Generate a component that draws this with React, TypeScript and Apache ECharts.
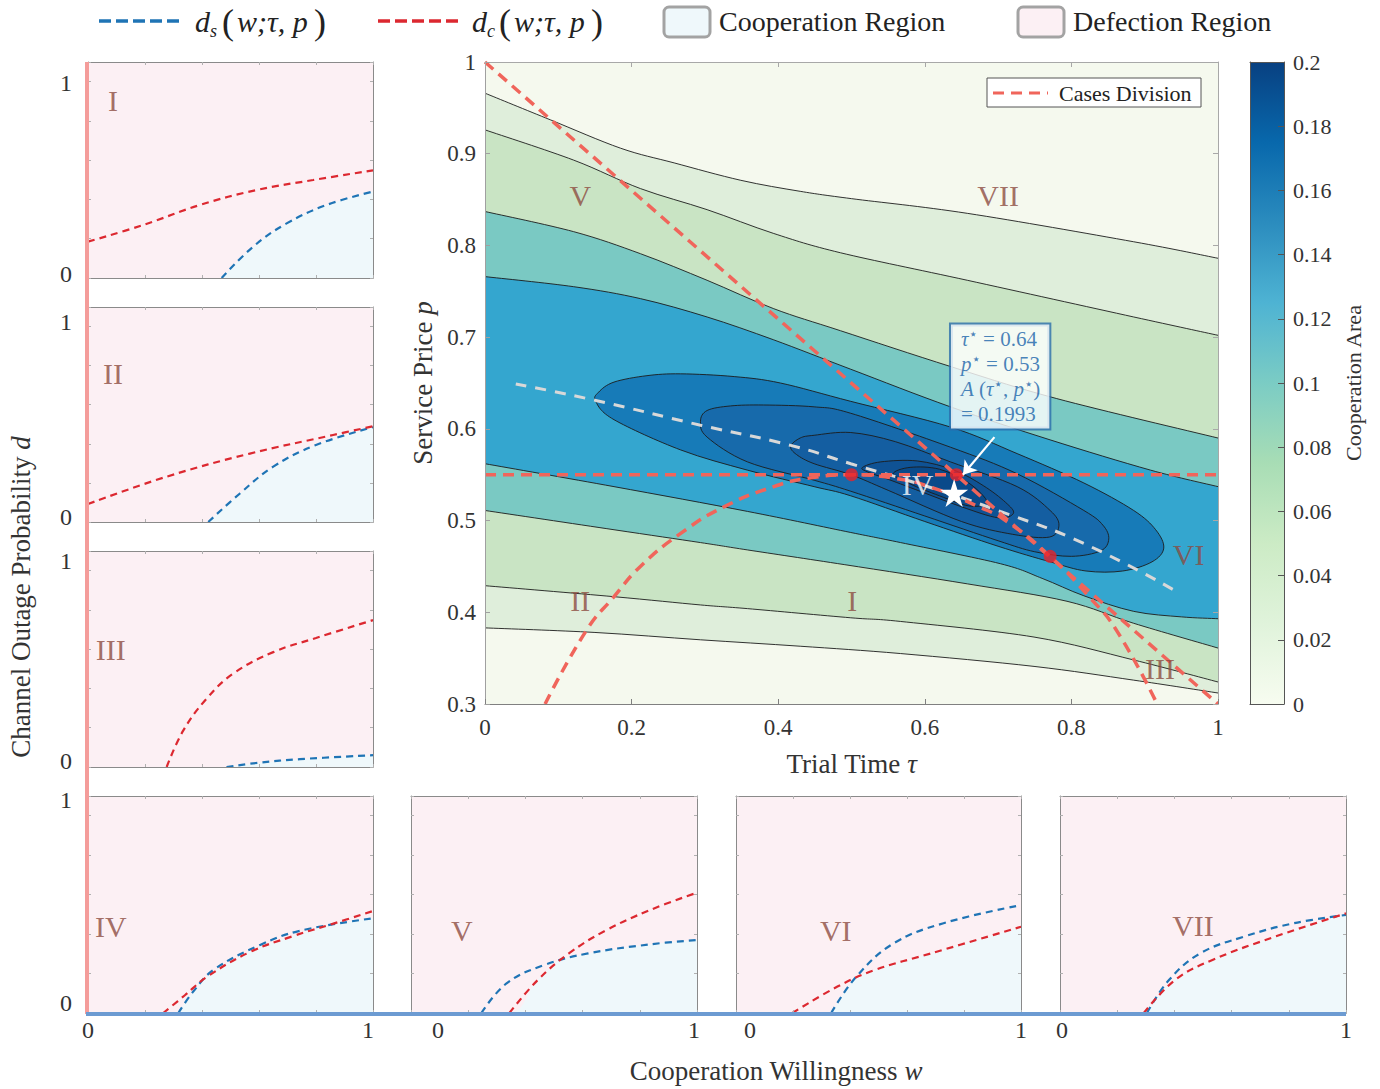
import React, { useEffect, useRef } from 'react';
import * as echarts from 'echarts';

const FONT = 'Liberation Serif';
const TXT = '#333333';
const BROWN = '#8c4b40';
const COOP = '#eff8fb';
const DEFECT = '#fcf0f4';
const BLUE = '#1f74b5';
const RED = '#dc2830';
const DIV_RED = '#f0655b';

// ---------------- main plot: contour lines of A(τ, p) ----------------
const contourL1Upper = [[0, 0.966], [0.089, 0.937], [0.185, 0.906], [0.258, 0.89], [0.349, 0.871], [0.43, 0.859], [0.5, 0.851], [0.658, 0.835], [0.885, 0.804], [1, 0.786]];
const contourL1Lower = [[0, 0.383], [0.15, 0.378], [0.294, 0.37], [0.43, 0.363], [0.567, 0.355], [0.749, 0.341], [0.885, 0.326], [1, 0.312]];
const contourL2Upper = [[0, 0.926], [0.121, 0.893], [0.212, 0.862], [0.303, 0.839], [0.394, 0.813], [0.485, 0.792], [0.658, 0.762], [0.885, 0.722], [1, 0.702]];
const contourL2Lower = [[0, 0.429], [0.176, 0.417], [0.294, 0.408], [0.358, 0.404], [0.499, 0.394], [0.567, 0.39], [0.749, 0.373], [0.885, 0.348], [1, 0.324]];
const contourL3Upper = [[0, 0.837], [0.121, 0.815], [0.212, 0.791], [0.303, 0.762], [0.394, 0.731], [0.485, 0.707], [0.635, 0.668], [0.78, 0.633], [1, 0.59]];
const contourL3Lower = [[0, 0.511], [0.176, 0.49], [0.294, 0.476], [0.358, 0.468], [0.49, 0.452], [0.658, 0.431], [0.794, 0.412], [0.885, 0.388], [1, 0.361]];
const contourL4Upper = [[0, 0.766], [0.121, 0.755], [0.212, 0.742], [0.303, 0.722], [0.394, 0.697], [0.499, 0.665], [0.635, 0.624], [0.771, 0.588], [0.908, 0.555], [1, 0.537]];
const contourL4Lower = [[0, 0.562], [0.176, 0.537], [0.358, 0.51], [0.499, 0.487], [0.567, 0.476], [0.703, 0.453], [0.76, 0.437], [0.817, 0.418], [0.885, 0.401], [0.95, 0.395], [1, 0.393]];
const contourL5 = [[0.151, 0.63], [0.155, 0.64], [0.176, 0.651], [0.221, 0.658], [0.267, 0.66], [0.34, 0.657], [0.403, 0.65], [0.499, 0.63], [0.635, 0.602], [0.726, 0.573], [0.817, 0.541], [0.885, 0.511], [0.915, 0.49], [0.926, 0.47], [0.91, 0.455], [0.87, 0.445], [0.82, 0.445], [0.771, 0.455], [0.7, 0.472], [0.6, 0.499], [0.499, 0.527], [0.449, 0.537], [0.358, 0.555], [0.267, 0.577], [0.176, 0.61]];
const contourL6 = [[0.294, 0.608], [0.303, 0.62], [0.335, 0.625], [0.38, 0.626], [0.449, 0.624], [0.499, 0.617], [0.635, 0.58], [0.726, 0.551], [0.817, 0.511], [0.843, 0.495], [0.851, 0.48], [0.84, 0.467], [0.8, 0.461], [0.75, 0.466], [0.7, 0.478], [0.6, 0.505], [0.499, 0.532], [0.449, 0.544], [0.358, 0.564], [0.303, 0.591]];
const contourL7 = [[0.417, 0.581], [0.43, 0.59], [0.449, 0.593], [0.499, 0.596], [0.56, 0.586], [0.635, 0.564], [0.726, 0.537], [0.771, 0.511], [0.783, 0.495], [0.77, 0.482], [0.72, 0.485], [0.65, 0.499], [0.55, 0.533], [0.499, 0.55], [0.449, 0.562], [0.425, 0.572]];
const contourL8 = [[0.515, 0.558], [0.54, 0.564], [0.59, 0.565], [0.64, 0.555], [0.68, 0.538], [0.71, 0.52], [0.721, 0.508], [0.7, 0.503], [0.65, 0.515], [0.6, 0.53], [0.55, 0.545], [0.522, 0.553]];
const contourL9 = [[0.557, 0.551], [0.58, 0.558], [0.62, 0.556], [0.66, 0.541], [0.685, 0.52], [0.66, 0.516], [0.62, 0.527], [0.58, 0.54]];
const bandColors = ['#f5f9ee', '#dfeedb', '#c9e4c4', '#7ac9c3', '#34a6cf', '#177bb8', '#176aab', '#145ea1', '#0f5294', '#0a4a8a'];

// case division lines, ridge, optimum
const divisionHorizontal = [[0, 0.55], [1, 0.55]];
const divisionLine = [[0, 1], [0.471, 0.67], [1, 0.3]];
const divisionCurve = [[0.082, 0.3], [0.139, 0.381], [0.176, 0.417], [0.212, 0.45], [0.267, 0.486], [0.326, 0.515], [0.394, 0.537], [0.44, 0.546], [0.5, 0.55], [0.56, 0.546], [0.606, 0.537], [0.674, 0.515], [0.712, 0.499], [0.771, 0.461], [0.824, 0.417], [0.861, 0.381], [0.917, 0.3]];
const ridgeLine = [[0.042, 0.649], [0.151, 0.631], [0.294, 0.604], [0.417, 0.582], [0.499, 0.562], [0.6, 0.538], [0.703, 0.51], [0.817, 0.475], [0.947, 0.421]];
const caseDots = [[0.5, 0.55], [0.643, 0.55], [0.771, 0.461]];
const optimum = [0.64, 0.53];
const optimumArrow = [[0.695, 0.591], [0.652, 0.55]];
const annotationAnchor = [0.6364, 0.7132];
const mainRegionLabels: [string, number, number][] = [['V', 0.13, 0.854], ['VII', 0.7, 0.854], ['IV', 0.59, 0.539], ['VI', 0.96, 0.463], ['II', 0.13, 0.413], ['I', 0.501, 0.413], ['III', 0.921, 0.339]];
const colorbarStops = ['#f7fcf0', '#e0f3db', '#ccebc5', '#a8ddb5', '#7bccc4', '#4eb3d3', '#2b8cbe', '#0868ac', '#084081'];

// ---------------- small panels: d_s (blue) and d_c (red) vs w ----------------
const panelNames = ['I', 'II', 'III', 'IV', 'V', 'VI', 'VII'];
const dsI = [[0.469, 0], [0.58, 0.16], [0.697, 0.278], [0.837, 0.372], [1, 0.44]];
const dcI = [[0, 0.185], [0.194, 0.27], [0.393, 0.372], [0.592, 0.448], [0.79, 0.499], [1, 0.548]];
const dsII = [[0.422, 0], [0.533, 0.146], [0.65, 0.283], [0.8, 0.394], [1, 0.485]];
const dcII = [[0, 0.092], [0.276, 0.232], [0.568, 0.35], [0.86, 0.445], [1, 0.49]];
const dsIII = [[0.486, 0], [0.6, 0.022], [0.744, 0.04], [1, 0.06]];
const dcIII = [[0.276, 0], [0.334, 0.185], [0.416, 0.348], [0.51, 0.476], [0.65, 0.585], [0.8, 0.657], [1, 0.748]];
const dsIV = [[0.317, 0], [0.37, 0.11], [0.44, 0.218], [0.604, 0.345], [0.744, 0.417], [1, 0.48]];
const dcIV = [[0.264, 0], [0.34, 0.09], [0.416, 0.182], [0.568, 0.309], [0.72, 0.39], [0.861, 0.453], [1, 0.517]];
const dsV = [[0.246, 0], [0.334, 0.15], [0.465, 0.243], [0.619, 0.302], [0.836, 0.348], [1, 0.37]];
const dcV = [[0.344, 0], [0.443, 0.167], [0.552, 0.302], [0.683, 0.42], [0.836, 0.522], [1, 0.61]];
const dsVI = [[0.334, 0], [0.422, 0.184], [0.553, 0.353], [0.728, 0.455], [1, 0.547]];
const dcVI = [[0.198, 0], [0.356, 0.134], [0.487, 0.218], [0.684, 0.302], [1, 0.437]];
const dsVII = [[0.304, 0], [0.381, 0.167], [0.49, 0.302], [0.643, 0.387], [0.818, 0.455], [1, 0.497]];
const dcVII = [[0.293, 0], [0.402, 0.167], [0.533, 0.269], [0.752, 0.387], [1, 0.505]];
const panelDs = [dsI, dsII, dsIII, dsIV, dsV, dsVI, dsVII];
const panelDc = [dcI, dcII, dcIII, dcIV, dcV, dcVI, dcVII];
const panelLabelPos = [[0.088, 0.906], [0.088, 0.76], [0.08, 0.6], [0.08, 0.436], [0.178, 0.416], [0.35, 0.416], [0.465, 0.446]];
const panelYTicks: [string, number, number][] = [['1', 66, 83], ['0', 66, 274], ['1', 66, 322], ['0', 66, 517], ['1', 66, 561], ['0', 66, 761], ['1', 66, 800], ['0', 66, 1003]];
const panelXTicks: [string, number][] = [['0', 88], ['1', 368], ['0', 438], ['1', 694], ['0', 750], ['1', 1021], ['0', 1062], ['1', 1346]];

// layout (pixels)
const panelBoxes = [[88, 62, 285, 216], [88, 307, 285, 215], [88, 551, 285, 216], [88, 796, 285, 217], [411, 796, 286, 217], [736, 796, 285, 217], [1060, 796, 286, 217]];

function splinePath(pts: number[][], closed: boolean, move: boolean): string {
  const n = pts.length;
  const f = (v: number) => v.toFixed(2);
  let d = move ? `M${f(pts[0][0])},${f(pts[0][1])}` : '';
  const segs = closed ? n : n - 1;
  for (let i = 0; i < segs; i++) {
    const p0 = closed ? pts[(i - 1 + n) % n] : pts[Math.max(i - 1, 0)];
    const p1 = pts[i % n];
    const p2 = pts[(i + 1) % n];
    const p3 = closed ? pts[(i + 2) % n] : pts[Math.min(i + 2, n - 1)];
    const c1x = p1[0] + (p2[0] - p0[0]) / 6, c1y = p1[1] + (p2[1] - p0[1]) / 6;
    const c2x = p2[0] - (p3[0] - p1[0]) / 6, c2y = p2[1] - (p3[1] - p1[1]) / 6;
    d += ` C${f(c1x)},${f(c1y)} ${f(c2x)},${f(c2y)} ${f(p2[0])},${f(p2[1])}`;
  }
  if (closed) d += ' Z';
  return d;
}

function buildOption() {
  const grids: any[] = [];
  const xAxes: any[] = [];
  const yAxes: any[] = [];
  const series: any[] = [];
  const graphics: any[] = [];

  const frameLine = (c: string) => ({ show: true, onZero: false, lineStyle: { color: c, width: 1 } });
  const tick = (c: string, len: number) => ({ show: true, inside: true, length: len, lineStyle: { color: c } });
  const richName = (size: number) => ({
    rich: {
      n: { fontFamily: FONT, fontSize: size, color: TXT },
      i: { fontFamily: FONT, fontSize: size, color: TXT, fontStyle: 'italic' },
    },
  });

  // ---------- main grid (0) ----------
  grids.push({ left: 485, top: 62, width: 733, height: 642, show: true, backgroundColor: bandColors[0], borderWidth: 0, containLabel: false, outerBoundsMode: 'none' });
  xAxes.push({
    gridIndex: 0, type: 'value', min: 0, max: 1, interval: 0.2, position: 'bottom', z: 10,
    axisLine: frameLine('#808080'), axisTick: tick('#808080', 5),
    axisLabel: { fontFamily: FONT, fontSize: 23, color: TXT, margin: 12, showMinLabel: true, showMaxLabel: true },
    splitLine: { show: false },
    name: '{n|Trial Time }{i|τ}', nameLocation: 'middle', nameGap: 46, nameTextStyle: richName(27),
  });
  xAxes.push({ gridIndex: 0, type: 'value', min: 0, max: 1, interval: 0.2, position: 'top', z: 10, axisLine: frameLine('#a8a8a8'), axisTick: tick('#a8a8a8', 5), axisLabel: { show: false }, splitLine: { show: false } });
  yAxes.push({
    gridIndex: 0, type: 'value', min: 0.3, max: 1, interval: 0.1, position: 'left', z: 10,
    axisLine: frameLine('#a0a0a0'), axisTick: tick('#a0a0a0', 5),
    axisLabel: { fontFamily: FONT, fontSize: 23, color: TXT, margin: 9, showMinLabel: true, showMaxLabel: true },
    splitLine: { show: false },
    name: '{n|Service Price }{i|p}', nameLocation: 'middle', nameGap: 48, nameTextStyle: richName(27),
  });
  yAxes.push({ gridIndex: 0, type: 'value', min: 0.3, max: 1, interval: 0.1, position: 'right', z: 10, axisLine: frameLine('#a8a8a8'), axisTick: tick('#a8a8a8', 5), axisLabel: { show: false }, splitLine: { show: false } });

  // ---------- colorbar grid (1) ----------
  grids.push({ left: 1250, top: 62, width: 34, height: 642, containLabel: false, outerBoundsMode: 'none' });
  xAxes.push({ gridIndex: 1, type: 'category', data: ['A'], position: 'bottom', z: 10, axisLine: frameLine('#555'), axisTick: { show: false }, axisLabel: { show: false } });
  xAxes.push({ gridIndex: 1, type: 'category', data: ['A'], position: 'top', z: 10, axisLine: frameLine('#555'), axisTick: { show: false }, axisLabel: { show: false } });
  yAxes.push({
    gridIndex: 1, type: 'value', min: 0, max: 0.2, interval: 0.02, position: 'right', z: 10,
    axisLine: frameLine('#555'), axisTick: tick('#555', 6),
    axisLabel: { fontFamily: FONT, fontSize: 22, color: TXT, margin: 9, showMinLabel: true, showMaxLabel: true },
    splitLine: { show: false },
    name: 'Cooperation Area', nameLocation: 'middle', nameGap: 58,
    nameTextStyle: { fontFamily: FONT, fontSize: 22, color: TXT },
  });
  yAxes.push({ gridIndex: 1, type: 'value', min: 0, max: 0.2, interval: 0.02, position: 'left', z: 10, axisLine: frameLine('#555'), axisTick: { show: false }, axisLabel: { show: false }, splitLine: { show: false } });

  // ---------- small panels ----------
  panelBoxes.forEach((b, k) => {
    const gi = k + 2;
    grids.push({ left: b[0], top: b[1], width: b[2], height: b[3], show: true, backgroundColor: DEFECT, borderWidth: 0, containLabel: false, outerBoundsMode: 'none' });
    xAxes.push({ gridIndex: gi, type: 'value', min: 0, max: 1, interval: 0.2, position: 'bottom', z: 10, axisLine: frameLine('#8a8a8a'), axisTick: tick('#b0b0b0', 3), axisLabel: { show: false }, splitLine: { show: false } });
    xAxes.push({ gridIndex: gi, type: 'value', min: 0, max: 1, interval: 0.2, position: 'top', z: 10, axisLine: frameLine('#8a8a8a'), axisTick: tick('#b0b0b0', 3), axisLabel: { show: false }, splitLine: { show: false } });
    yAxes.push({ gridIndex: gi, type: 'value', min: 0, max: 1.1, interval: 0.2, position: 'left', z: 10, axisLine: frameLine('#8a8a8a'), axisTick: tick('#b0b0b0', 3), axisLabel: { show: false }, splitLine: { show: false } });
    yAxes.push({ gridIndex: gi, type: 'value', min: 0, max: 1.1, interval: 0.2, position: 'right', z: 10, axisLine: frameLine('#8a8a8a'), axisTick: tick('#b0b0b0', 3), axisLabel: { show: false }, splitLine: { show: false } });
  });

  // ---------- main contour fills & lines ----------
  const contourShapes: any[] = [
    { upper: contourL1Upper, lower: contourL1Lower, color: bandColors[1] },
    { upper: contourL2Upper, lower: contourL2Lower, color: bandColors[2] },
    { upper: contourL3Upper, lower: contourL3Lower, color: bandColors[3] },
    { upper: contourL4Upper, lower: contourL4Lower, color: bandColors[4] },
    { loop: contourL5, color: bandColors[5] },
    { loop: contourL6, color: bandColors[6] },
    { loop: contourL7, color: bandColors[7] },
    { loop: contourL8, color: bandColors[8] },
    { loop: contourL9, color: bandColors[9] },
  ];
  series.push({
    type: 'custom', xAxisIndex: 0, yAxisIndex: 0, clip: true, silent: true, z: 2,
    data: contourShapes.map((_, i) => [0.5, 0.5, i]),
    renderItem: (params: any, api: any) => {
      const s = contourShapes[api.value(2)];
      const px = (pts: number[][]) => pts.map((q) => api.coord(q));
      const stroke = { fill: 'none', stroke: '#1c1c1c', lineWidth: 0.9 };
      if (s.loop) {
        const d = splinePath(px(s.loop), true, true);
        return { type: 'path', shape: { pathData: d }, style: { fill: s.color, stroke: '#1c1c1c', lineWidth: 0.9 } };
      }
      const up = px(s.upper);
      const lo = px(s.lower).reverse();
      const fillD = splinePath(up, false, true) + ` L${lo[0][0].toFixed(2)},${lo[0][1].toFixed(2)}` + splinePath(lo, false, false) + ' Z';
      return {
        type: 'group',
        children: [
          { type: 'path', shape: { pathData: fillD }, style: { fill: s.color } },
          { type: 'path', shape: { pathData: splinePath(up, false, true) }, style: stroke },
          { type: 'path', shape: { pathData: splinePath(lo, false, true) }, style: stroke },
        ],
      };
    },
  });

  const lineBase = { type: 'line', xAxisIndex: 0, yAxisIndex: 0, symbol: 'none', showSymbol: false, silent: true, z: 3 };
  series.push({ ...lineBase, data: ridgeLine, smooth: true, lineStyle: { color: '#d8d8d8', width: 3, type: [11, 9] } });
  series.push({ ...lineBase, data: divisionHorizontal, lineStyle: { color: DIV_RED, width: 3.5, type: [11, 7] } });
  series.push({ ...lineBase, data: divisionLine, lineStyle: { color: DIV_RED, width: 3.5, type: [11, 7] } });
  series.push({ ...lineBase, data: divisionCurve, smooth: true, lineStyle: { color: DIV_RED, width: 3.5, type: [11, 7] } });
  series.push({ type: 'scatter', xAxisIndex: 0, yAxisIndex: 0, data: caseDots, symbolSize: 13, itemStyle: { color: '#e8232b' }, z: 5, silent: true });
  series.push({
    type: 'scatter', xAxisIndex: 0, yAxisIndex: 0, data: [optimum], symbolSize: 28, silent: true, z: 6,
    symbol: 'path://M50,0 L61.2,34.5 L97.6,34.5 L68.2,55.9 L79.4,90.5 L50,69.1 L20.6,90.5 L31.8,55.9 L2.4,34.5 L38.8,34.5 Z',
    itemStyle: { color: '#ffffff', opacity: 1 },
  });
  series.push({
    type: 'lines', coordinateSystem: 'cartesian2d', xAxisIndex: 0, yAxisIndex: 0, silent: true, z: 6,
    data: [{ coords: optimumArrow }], symbol: ['none', 'arrow'], symbolSize: 13,
    lineStyle: { color: '#ffffff', width: 2.2, opacity: 1, curveness: 0 },
  });
  series.push({
    type: 'scatter', xAxisIndex: 0, yAxisIndex: 0, symbolSize: 1, silent: true, z: 7, itemStyle: { color: 'rgba(0,0,0,0)' },
    data: mainRegionLabels.map(([t, x, y]) => ({
      value: [x, y],
      label: { show: true, position: 'inside', formatter: t, fontFamily: FONT, fontSize: 30, color: t === 'IV' ? '#ffffff' : BROWN },
    })),
  });
  const annColor = '#1a64aa';
  series.push({
    type: 'scatter', xAxisIndex: 0, yAxisIndex: 0, symbolSize: 1, silent: true, z: 8, itemStyle: { color: 'rgba(0,0,0,0)' },
    data: [{
      value: annotationAnchor,
      label: {
        show: true, position: [0, 0], align: 'left', verticalAlign: 'top',
        formatter: '{i|τ}{s|⋆}{n| = 0.64}\n{i|p}{s|⋆}{n| = 0.53}\n{i|A}{n| (}{i|τ}{s|⋆}{n|, }{i|p}{s|⋆}{n|)}\n{n|= 0.1993}',
        backgroundColor: '#ffffff', borderColor: '#2a6dab', borderWidth: 2, padding: [2, 9, 2, 10],
        rich: {
          i: { fontFamily: FONT, fontSize: 21, fontStyle: 'italic', color: annColor, lineHeight: 25 },
          n: { fontFamily: FONT, fontSize: 21, color: annColor, lineHeight: 25 },
          s: { fontFamily: 'DejaVu Sans', fontSize: 15, color: annColor, lineHeight: 16, verticalAlign: 'top' },
        },
      },
    }],
  });

  // ---------- colorbar ----------
  series.push({
    type: 'bar', xAxisIndex: 2, yAxisIndex: 2, data: [0.2], barWidth: '100%', silent: true, z: 1,
    itemStyle: {
      color: { type: 'linear', x: 0, y: 1, x2: 0, y2: 0, colorStops: colorbarStops.map((c, i) => ({ offset: i / (colorbarStops.length - 1), color: c })) },
    },
  });

  // ---------- panel series ----------
  panelBoxes.forEach((_, k) => {
    const xi = 4 + 2 * k;
    const yi = 4 + 2 * k;
    const ds = panelDs[k];
    const dc = panelDc[k];
    const base = { type: 'line', xAxisIndex: xi, yAxisIndex: yi, symbol: 'none', showSymbol: false, silent: true, smooth: 0.4 };
    series.push({ ...base, data: ds, z: 1, lineStyle: { width: 0, opacity: 0 }, areaStyle: { color: COOP, opacity: 1, origin: 'start' } });
    const dcFill = dc[0][0] > ds[0][0] && dc[0][1] === 0 ? [[0, 0], ...dc] : dc;
    series.push({ ...base, data: dcFill, z: 1, lineStyle: { width: 0, opacity: 0 }, areaStyle: { color: DEFECT, opacity: 1, origin: 'end' } });
    series.push({ ...base, data: ds, z: 3, lineStyle: { color: BLUE, width: 2.2, type: [7, 5] } });
    series.push({ ...base, data: dc, z: 3, lineStyle: { color: RED, width: 2.2, type: [7, 5] } });
    series.push({
      type: 'scatter', xAxisIndex: xi, yAxisIndex: yi, symbolSize: 1, silent: true, z: 4, itemStyle: { color: 'rgba(0,0,0,0)' },
      data: [{ value: panelLabelPos[k], label: { show: true, position: 'inside', formatter: panelNames[k], fontFamily: FONT, fontSize: 30, color: BROWN } }],
    });
  });

  // ---------- graphics: legends, titles, decorations ----------
  const txt = (text: string, x: number, y: number, size: number, extra: any = {}) => ({
    type: 'text', x, y, z: 100, silent: true,
    style: { text, fontFamily: FONT, fontSize: size, fill: '#222', align: 'left', verticalAlign: 'middle', ...extra },
  });
  // top legend
  graphics.push({ type: 'line', z: 100, silent: true, shape: { x1: 99, y1: 21, x2: 183, y2: 21 }, style: { stroke: BLUE, lineWidth: 3.5, lineDash: [12, 5] } });
  graphics.push({ type: 'line', z: 100, silent: true, shape: { x1: 378, y1: 21, x2: 462, y2: 21 }, style: { stroke: RED, lineWidth: 3.5, lineDash: [12, 5] } });
  [[195, 's'], [472, 'c']].forEach(([x0, sub]: any) => {
    graphics.push(txt('d', x0, 21, 30, { fontStyle: 'italic' }));
    graphics.push(txt(sub, x0 + 15, 31, 18, { fontStyle: 'italic' }));
    graphics.push(txt('(', x0 + 27, 22, 36));
    graphics.push(txt('w;τ, p', x0 + 42, 21, 30, { fontStyle: 'italic' }));
    graphics.push(txt(')', x0 + 119, 22, 36));
  });
  graphics.push({ type: 'rect', z: 100, silent: true, shape: { x: 664, y: 7, width: 46, height: 30, r: 5 }, style: { fill: COOP, stroke: '#a3a3a3', lineWidth: 3 } });
  graphics.push(txt('Cooperation Region', 719, 21, 28));
  graphics.push({ type: 'rect', z: 100, silent: true, shape: { x: 1018, y: 7, width: 46, height: 30, r: 5 }, style: { fill: DEFECT, stroke: '#a3a3a3', lineWidth: 3 } });
  graphics.push(txt('Defection Region', 1073, 21, 28));

  // cases division legend
  graphics.push({ type: 'rect', z: 100, silent: true, shape: { x: 987, y: 78, width: 214, height: 29 }, style: { fill: '#ffffff', stroke: '#555', lineWidth: 1 } });
  graphics.push({ type: 'line', z: 101, silent: true, shape: { x1: 993, y1: 93, x2: 1048, y2: 93 }, style: { stroke: DIV_RED, lineWidth: 3, lineDash: [11, 7] } });
  graphics.push(txt('Cases Division', 1059, 93, 22));

  // decoration axis lines
  graphics.push({ type: 'line', z: 100, silent: true, shape: { x1: 87, y1: 62, x2: 87, y2: 1014 }, style: { stroke: '#f49c9a', lineWidth: 4 } });
  graphics.push({ type: 'line', z: 100, silent: true, shape: { x1: 86, y1: 1014, x2: 1346, y2: 1014 }, style: { stroke: '#6c9bd2', lineWidth: 4 } });

  // panel tick labels
  panelYTicks.forEach(([t, x, y]) => graphics.push(txt(t, x, y, 24, { align: 'center', fill: TXT })));
  panelXTicks.forEach(([t, x]) => graphics.push(txt(t, x, 1030, 24, { align: 'center', fill: TXT })));

  // shared titles
  const titleRich = {
    n: { fontFamily: FONT, fontSize: 27, fill: TXT, color: TXT },
    i: { fontFamily: FONT, fontSize: 27, fill: TXT, color: TXT, fontStyle: 'italic' },
  };
  graphics.push({
    type: 'text', x: 776, y: 1071, z: 100, silent: true,
    style: { text: '{n|Cooperation Willingness }{i|w}', rich: titleRich, align: 'center', verticalAlign: 'middle' },
  });
  graphics.push({
    type: 'text', x: 21, y: 597, rotation: Math.PI / 2, z: 100, silent: true,
    style: { text: '{n|Channel Outage Probability }{i|d}', rich: titleRich, align: 'center', verticalAlign: 'middle' },
  });

  return {
    animation: false,
    backgroundColor: '#ffffff',
    textStyle: { fontFamily: FONT },
    grid: grids,
    xAxis: xAxes,
    yAxis: yAxes,
    series,
    graphic: { elements: graphics },
  };
}

const App = () => {
  const ref = useRef<HTMLDivElement>(null);
  useEffect(() => {
    if (!ref.current) return;
    const chart = echarts.init(ref.current, null, { renderer: 'svg' });
    chart.setOption(buildOption() as any);
    return () => chart.dispose();
  }, []);
  return <div ref={ref} style={{ position: 'fixed', left: 0, top: 0, width: 1380, height: 1089, background: '#fff' }} />;
};

export default App;
